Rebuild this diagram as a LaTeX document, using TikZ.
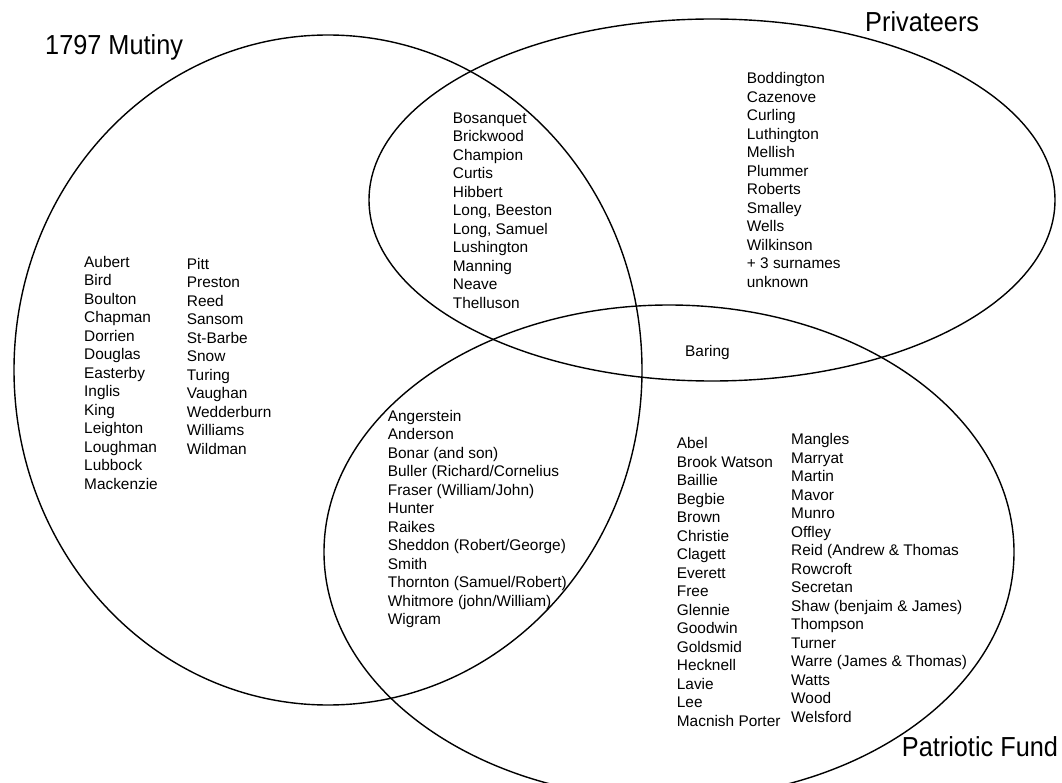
\documentclass[tikz,border=0pt]{standalone}
\usepackage{fontspec}
\setmainfont{Liberation Sans}
\newfontfamily\titlefont{Liberation Sans}[FakeStretch=0.92]
\begin{document}
\begin{tikzpicture}[x=1pt,y=-1pt,
  ring/.style={draw=black, line width=1.4pt},
  names/.style={anchor=north west, inner sep=0pt, align=left,
    font=\fontsize{15.4}{18.5}\selectfont},
  settitle/.style={anchor=base west, inner sep=0pt,
    font=\titlefont\fontsize{27.5}{30}\selectfont}]
\useasboundingbox (0,0) rectangle (1062,783);
\fill[white] (0,0) rectangle (1062,783);
\begin{scope}
\clip (0,0) rectangle (1062,783);
\draw[ring] (328,370) ellipse [x radius=314pt, y radius=335pt];
\draw[ring] (712,200) ellipse [x radius=343pt, y radius=181pt];
\draw[ring] (669,552) ellipse [x radius=345pt, y radius=247pt];
\end{scope}

\node[settitle] (tmutiny) at (45,55) {1797 Mutiny};
\node[settitle] (tpriv) at (865,31.7) {Privateers};
\node[settitle] (tfund) at (901.7,756) {Patriotic Fund};

\node[names] (mutinyA) at (84,255.7) {Aubert\\Bird\\Boulton\\Chapman\\Dorrien\\Douglas\\Easterby\\Inglis\\King\\Leighton\\Loughman\\Lubbock\\Mackenzie};
\node[names] (mutinyB) at (186.7,258) {Pitt\\Preston\\Reed\\Sansom\\St-Barbe\\Snow\\Turing\\Vaughan\\Wedderburn\\Williams\\Wildman};
\node[names] (mutpriv) at (452.7,112.3) {Bosanquet\\Brickwood\\Champion\\Curtis\\Hibbert\\Long, Beeston\\Long, Samuel\\Lushington\\Manning\\Neave\\Thelluson};
\node[names] (priv) at (746.7,72.3) {Boddington\\Cazenove\\Curling\\Luthington\\Mellish\\Plummer\\Roberts\\Smalley\\Wells\\Wilkinson\\+ 3 surnames\\unknown};
\node[names] (privfund) at (685,345) {Baring};
\node[names] (mutfund) at (387.7,410) {Angerstein\\Anderson\\Bonar (and son)\\Buller (Richard/Cornelius\\Fraser (William/John)\\Hunter\\Raikes\\Sheddon (Robert/George)\\Smith\\Thornton (Samuel/Robert)\\Whitmore (john/William)\\Wigram};
\node[names] (fundA) at (676.7,437.3) {Abel\\Brook Watson\\Baillie\\Begbie\\Brown\\Christie\\Clagett\\Everett\\Free\\Glennie\\Goodwin\\Goldsmid\\Hecknell\\Lavie\\Lee\\Macnish Porter};
\node[names] (fundB) at (791,433.3) {Mangles\\Marryat\\Martin\\Mavor\\Munro\\Offley\\Reid (Andrew \& Thomas\\Rowcroft\\Secretan\\Shaw (benjaim \& James)\\Thompson\\Turner\\Warre (James \& Thomas)\\Watts\\Wood\\Welsford};
\end{tikzpicture}
\end{document}
